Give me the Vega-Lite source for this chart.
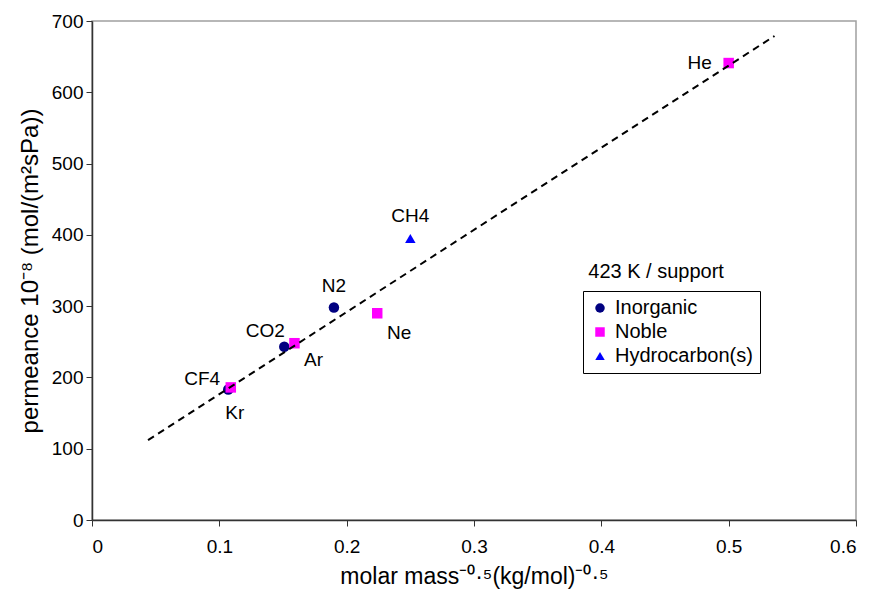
{
  "$schema": "https://vega.github.io/schema/vega-lite/v6.json",
  "width": 764,
  "height": 499,
  "autosize": {"type": "none"},
  "padding": {"left": 92, "top": 21, "right": 22, "bottom": 73},
  "background": "white",
  "config": {
    "font": "Liberation Sans",
    "view": {"stroke": "#a0a0a0", "strokeWidth": 1.5},
    "axis": {
      "domainColor": "#333333",
      "domainWidth": 1.5,
      "tickColor": "#333333",
      "tickSize": 6,
      "tickWidth": 1,
      "grid": false,
      "labelFont": "Liberation Sans",
      "labelFontSize": 19,
      "labelColor": "black",
      "titleFont": "Liberation Sans",
      "titleFontSize": 23,
      "titleFontWeight": "normal",
      "titleColor": "black"
    }
  },
  "datasets": {
    "gases": [
      {"gas": "CF4", "x": 0.107, "y": 183, "group": "Inorganic"},
      {"gas": "CO2", "x": 0.151, "y": 243, "group": "Inorganic"},
      {"gas": "N2", "x": 0.190, "y": 298, "group": "Inorganic"},
      {"gas": "CH4", "x": 0.250, "y": 395, "group": "Hydrocarbon(s)"},
      {"gas": "Kr", "x": 0.109, "y": 186, "group": "Noble"},
      {"gas": "Ar", "x": 0.159, "y": 248, "group": "Noble"},
      {"gas": "Ne", "x": 0.224, "y": 290, "group": "Noble"},
      {"gas": "He", "x": 0.500, "y": 641, "group": "Noble"}
    ],
    "fit": [
      {"x": 0.044, "y": 112},
      {"x": 0.536, "y": 679}
    ],
    "note": [
      {"x": 0.443, "y": 348, "text": "423 K / support"}
    ]
  },
  "encoding": {
    "x": {
      "field": "x", "type": "quantitative",
      "scale": {"domain": [0, 0.6], "nice": false},
      "axis": {"values": [0, 0.1, 0.2, 0.3, 0.4, 0.5, 0.6], "format": ".1~f", "labelPadding": 11, "titlePadding": 9},
      "title": "molar mass⁻⁰·⁵(kg/mol)⁻⁰·⁵"
    },
    "y": {
      "field": "y", "type": "quantitative",
      "scale": {"domain": [0, 700], "nice": false},
      "axis": {"values": [0, 100, 200, 300, 400, 500, 600, 700], "labelPadding": 3, "titlePadding": 9, "titleFontSize": 24},
      "title": "permeance 10⁻⁸ (mol/(m²sPa))"
    }
  },
  "layer": [
    {
      "data": {"name": "gases"},
      "mark": {"type": "point", "filled": true, "opacity": 1, "size": 110},
      "encoding": {
        "color": {
          "field": "group", "type": "nominal",
          "scale": {"domain": ["Inorganic", "Noble", "Hydrocarbon(s)"], "range": ["#000080", "#ff00ff", "#0000ff"]},
          "legend": {"title": null, "orient": "none", "legendX": 491, "legendY": 270, "strokeColor": "black", "fillColor": "white", "padding": 7, "labelFontSize": 20, "labelColor": "black", "symbolSize": 90, "rowPadding": 4, "labelOffset": 5}
        },
        "shape": {
          "field": "group", "type": "nominal",
          "scale": {"domain": ["Inorganic", "Noble", "Hydrocarbon(s)"], "range": ["circle", "square", "triangle-up"]},
          "legend": {"title": null, "orient": "none", "legendX": 491, "legendY": 270, "strokeColor": "black", "fillColor": "white", "padding": 7, "labelFontSize": 20, "labelColor": "black", "symbolSize": 90, "rowPadding": 4, "labelOffset": 5}
        }
      }
    },
    {
      "data": {"name": "fit"},
      "mark": {"type": "line", "color": "black", "strokeWidth": 2, "strokeDash": [7, 5]}
    },
    {
      "data": {"name": "note"},
      "mark": {"type": "text", "fontSize": 20, "color": "black"},
      "encoding": {"text": {"field": "text"}}
    },
    {"data": {"name": "gases"}, "transform": [{"filter": "datum.gas == 'He'"}],
     "mark": {"type": "text", "fontSize": 19, "color": "black", "dx": -29, "dy": 0},
     "encoding": {"text": {"field": "gas"}}},
    {"data": {"name": "gases"}, "transform": [{"filter": "datum.gas == 'CH4' || datum.gas == 'N2'"}],
     "mark": {"type": "text", "fontSize": 19, "color": "black", "dx": 0, "dy": -22},
     "encoding": {"text": {"field": "gas"}}},
    {"data": {"name": "gases"}, "transform": [{"filter": "datum.gas == 'Ne'"}],
     "mark": {"type": "text", "fontSize": 19, "color": "black", "dx": 22, "dy": 20},
     "encoding": {"text": {"field": "gas"}}},
    {"data": {"name": "gases"}, "transform": [{"filter": "datum.gas == 'Ar'"}],
     "mark": {"type": "text", "fontSize": 19, "color": "black", "dx": 19, "dy": 17},
     "encoding": {"text": {"field": "gas"}}},
    {"data": {"name": "gases"}, "transform": [{"filter": "datum.gas == 'CO2'"}],
     "mark": {"type": "text", "fontSize": 19, "color": "black", "dx": -19, "dy": -16},
     "encoding": {"text": {"field": "gas"}}},
    {"data": {"name": "gases"}, "transform": [{"filter": "datum.gas == 'CF4'"}],
     "mark": {"type": "text", "fontSize": 19, "color": "black", "dx": -26, "dy": -11},
     "encoding": {"text": {"field": "gas"}}},
    {"data": {"name": "gases"}, "transform": [{"filter": "datum.gas == 'Kr'"}],
     "mark": {"type": "text", "fontSize": 19, "color": "black", "dx": 4, "dy": 26},
     "encoding": {"text": {"field": "gas"}}}
  ]
}
